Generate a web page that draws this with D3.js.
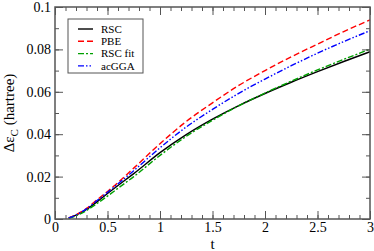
<!DOCTYPE html>
<html>
<head>
<meta charset="utf-8">
<script src="https://cdn.jsdelivr.net/npm/d3@7"></script>
<style>
  body { margin: 0; background: #fff; }
  svg { display: block; }
  svg text { font-family: "Times New Roman", Times, "Liberation Serif", "Nimbus Roman", "DejaVu Serif", serif; }
</style>
</head>
<body>
<div id="chart"></div>
<script>
// t values shared by every curve
const tValues = [0.13, 0.2, 0.3, 0.4, 0.5, 0.6, 0.75, 1.0, 1.25, 1.5, 1.75, 2.0, 2.25, 2.5, 2.75, 3.0];

const rsc    = [0.0004, 0.0018, 0.0045, 0.0081, 0.0120, 0.0158, 0.0214, 0.0313, 0.0398, 0.0471, 0.0535, 0.0592, 0.0645, 0.0695, 0.0743, 0.0789];
const pbe    = [0.0005, 0.0020, 0.0050, 0.0090, 0.0130, 0.0172, 0.0240, 0.0355, 0.0460, 0.0548, 0.0630, 0.0700, 0.0765, 0.0825, 0.0884, 0.0939];
const rscFit = [0.0003, 0.0015, 0.0040, 0.0073, 0.0108, 0.0145, 0.0200, 0.0300, 0.0390, 0.0466, 0.0534, 0.0594, 0.0650, 0.0703, 0.0753, 0.0801];
const acgga  = [0.0005, 0.0019, 0.0048, 0.0087, 0.0126, 0.0166, 0.0228, 0.0336, 0.0434, 0.0517, 0.0593, 0.0660, 0.0723, 0.0782, 0.0837, 0.0888];

const seriesNames = ['RSC', 'PBE', 'RSC fit', 'acGGA'];
const xTicks = [0, 0.5, 1, 1.5, 2, 2.5, 3];
const yTicks = [0, 0.02, 0.04, 0.06, 0.08, 0.1];

const width = 374, height = 251;
const margin = [7, 4, 32, 55]; // top right bottom left

const series = [
  { name: seriesNames[0], values: rsc,    color: '#000000', dash: null },
  { name: seriesNames[1], values: pbe,    color: '#ff0000', dash: '6,3' },
  { name: seriesNames[2], values: rscFit, color: '#00a000', dash: '6,2,2,2' },
  { name: seriesNames[3], values: acgga,  color: '#0000ff', dash: '6,2,1.5,2,1.5,2' }
];

const svg = d3.select('#chart').append('svg')
  .attr('width', width)
  .attr('height', height);

const chartW = width - margin[1] - margin[3];
const chartH = height - margin[0] - margin[2];

const scaleX = d3.scaleLinear().domain([0, 3]).range([0, chartW]);
const scaleY = d3.scaleLinear().domain([0, 0.1]).range([chartH, 0]);

const chart = svg.append('g')
  .attr('transform', `translate(${margin[3]},${margin[0]})`);

// curves
const line = d3.line()
  .x((d, i) => scaleX(tValues[i]))
  .y(d => scaleY(d))
  .curve(d3.curveMonotoneX);

chart.selectAll('.curve')
  .data(series)
  .join('path')
  .attr('class', 'curve')
  .attr('fill', 'none')
  .attr('stroke', d => d.color)
  .attr('stroke-width', 1.4)
  .attr('stroke-dasharray', d => d.dash)
  .attr('d', d => line(d.values));

// axes: ticks pointing inward on all four sides
const axisColor = '#555';
const serif = '"Times New Roman", Times, "Liberation Serif", "Nimbus Roman", "DejaVu Serif", serif';
const fmt = d => d === 0 ? '0' : String(d);

function styleAxis(g) {
  g.attr('font-family', serif);
  g.select('.domain').remove();
  g.selectAll('line').attr('stroke', axisColor).attr('stroke-width', 1);
  g.selectAll('text').attr('fill', '#000')
    .style('font-family', serif)
    .style('font-size', '14px');
}

const xMinor = d3.range(0, 3.001, 0.1).map(v => +v.toFixed(2));
const yMinor = d3.range(0, 0.1001, 0.01).map(v => +v.toFixed(3));

// bottom
chart.append('g').attr('transform', `translate(0,${chartH})`)
  .call(d3.axisBottom(scaleX).tickValues(xMinor).tickSize(-4).tickFormat(''))
  .call(styleAxis);
chart.append('g').attr('transform', `translate(0,${chartH})`)
  .call(d3.axisBottom(scaleX).tickValues(xTicks).tickSize(-8).tickPadding(3).tickFormat(fmt))
  .call(styleAxis);
// top
chart.append('g')
  .call(d3.axisTop(scaleX).tickValues(xMinor).tickSize(-4).tickFormat(''))
  .call(styleAxis);
chart.append('g')
  .call(d3.axisTop(scaleX).tickValues(xTicks).tickSize(-8).tickFormat(''))
  .call(styleAxis);
// left
chart.append('g')
  .call(d3.axisLeft(scaleY).tickValues(yMinor).tickSize(-4).tickFormat(''))
  .call(styleAxis);
chart.append('g')
  .call(d3.axisLeft(scaleY).tickValues(yTicks).tickSize(-8).tickPadding(4).tickFormat(fmt))
  .call(styleAxis);
// right
chart.append('g').attr('transform', `translate(${chartW},0)`)
  .call(d3.axisRight(scaleY).tickValues(yMinor).tickSize(-4).tickFormat(''))
  .call(styleAxis);
chart.append('g').attr('transform', `translate(${chartW},0)`)
  .call(d3.axisRight(scaleY).tickValues(yTicks).tickSize(-8).tickFormat(''))
  .call(styleAxis);

// frame
chart.append('rect')
  .attr('width', chartW).attr('height', chartH)
  .attr('fill', 'none').attr('stroke', axisColor).attr('stroke-width', 1.5);

// axis labels
svg.append('text')
  .attr('x', margin[3] + chartW / 2)
  .attr('y', 249)
  .attr('text-anchor', 'middle')
  .style('font-size', '15px')
  .text('t');

const yLabel = svg.append('text')
  .attr('transform', `translate(14,${margin[0] + chartH / 2})rotate(-90)`)
  .attr('text-anchor', 'middle')
  .style('font-size', '15px');
yLabel.append('tspan').text('Δε');
yLabel.append('tspan').attr('dy', 4).style('font-size', '11px').text('C');
yLabel.append('tspan').attr('dy', -4).text(' (hartree)');

// legend
const legend = svg.append('g').attr('transform', 'translate(68,19)');
legend.append('rect')
  .attr('width', 75).attr('height', 54)
  .attr('fill', '#fff').attr('stroke', axisColor).attr('stroke-width', 1);

const items = legend.selectAll('.item')
  .data(series)
  .join('g')
  .attr('class', 'item')
  .attr('transform', (d, i) => `translate(0,${10 + i * 12.3})`);

items.append('line')
  .attr('x1', 10).attr('x2', 25)
  .attr('stroke', d => d.color)
  .attr('stroke-width', 1.4)
  .attr('stroke-dasharray', d => d.dash);

items.append('text')
  .attr('x', 33)
  .attr('dy', '0.35em')
  .style('font-size', '11px')
  .text(d => d.name);
</script>
</body>
</html>
